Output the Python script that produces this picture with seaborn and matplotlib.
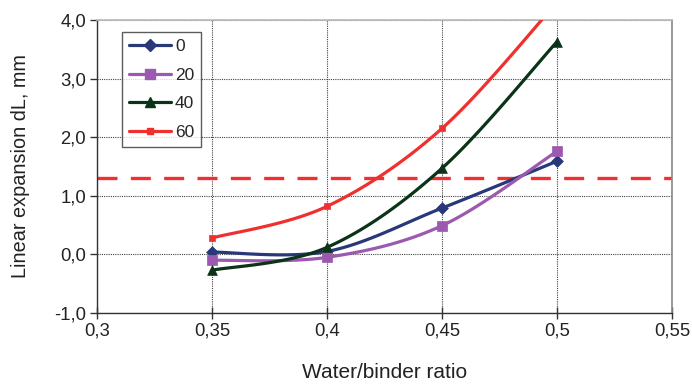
import numpy as np
import pandas as pd
import matplotlib
matplotlib.use("Agg")
import matplotlib.pyplot as plt
import seaborn as sns
from matplotlib.ticker import FuncFormatter, MultipleLocator

# ---- data ----
wb_ratio = [0.35, 0.40, 0.45, 0.50]
series_names = ["0", "20", "40", "60"]
vals_0 = [0.04, 0.05, 0.79, 1.59]
vals_20 = [-0.10, -0.05, 0.49, 1.76]
vals_40 = [-0.27, 0.12, 1.47, 3.63]
vals_60 = [0.28, 0.82, 2.15, 4.30]
limit_value = 1.3

colors = ["#283878", "#9B59B0", "#0B3318", "#F0302F"]
markers = ["D", "s", "^", "s"]
msizes = [6, 7, 7, 4.5]

sns.set_theme(style="white")
plt.rcParams["font.family"] = ["Liberation Sans", "DejaVu Sans"]

def smooth(x, y, n=40):
    # Catmull-Rom smoothing (like spreadsheet "smoothed line")
    x = np.asarray(x, float); y = np.asarray(y, float)
    px = np.concatenate([[x[0]], x, [x[-1]]])
    py = np.concatenate([[y[0]], y, [y[-1]]])
    xs, ys = [], []
    for i in range(1, len(px) - 2):
        t = np.linspace(0, 1, n)
        h00 = 2*t**3 - 3*t**2 + 1
        h10 = t**3 - 2*t**2 + t
        h01 = -2*t**3 + 3*t**2
        h11 = t**3 - t**2
        mx1 = (px[i+1] - px[i-1]) / 2; mx2 = (px[i+2] - px[i]) / 2
        my1 = (py[i+1] - py[i-1]) / 2; my2 = (py[i+2] - py[i]) / 2
        xs.append(h00*px[i] + h10*mx1 + h01*px[i+1] + h11*mx2)
        ys.append(h00*py[i] + h10*my1 + h01*py[i+1] + h11*my2)
    return np.concatenate(xs), np.concatenate(ys)

fig = plt.figure(figsize=(6.92, 3.85), dpi=100)
ax = fig.add_axes([97/692, 1 - 313/385, (672 - 97)/692, (313 - 20)/385])

all_vals = [vals_0, vals_20, vals_40, vals_60]
for name, v, c, m, ms in zip(series_names, all_vals, colors, markers, msizes):
    sx, sy = smooth(wb_ratio, v)
    curve = pd.DataFrame({"x": sx, "y": sy})
    sns.lineplot(data=curve, x="x", y="y", ax=ax, color=c, lw=2.3,
                 sort=False, estimator=None, zorder=3)
    pts = pd.DataFrame({"x": wb_ratio, "y": v})
    sns.scatterplot(data=pts, x="x", y="y", ax=ax, color=c, marker=m,
                    s=ms**2, edgecolor=c, linewidth=0.5, zorder=4)
    ax.plot([], [], color=c, marker=m, ms=ms, lw=2.3, label=name)

ax.axhline(limit_value, color="#EE3030", lw=2.4, ls=(0, (6, 4)), zorder=2)

ax.set_xlim(0.3, 0.55)
ax.set_ylim(-1.0, 4.0)
ax.xaxis.set_major_locator(MultipleLocator(0.05))
ax.yaxis.set_major_locator(MultipleLocator(1.0))

def fx(v, pos):
    s = f"{v:.2f}".rstrip("0")
    if s.endswith("."):
        s += "0"
    return s.replace(".", ",")

ax.xaxis.set_major_formatter(FuncFormatter(fx))
ax.yaxis.set_major_formatter(FuncFormatter(lambda v, p: f"{v:.1f}".replace(".", ",")))

ax.grid(True, color="#444444", ls=(0, (1, 1)), lw=0.8)
ax.set_axisbelow(True)
for side in ["left", "bottom"]:
    ax.spines[side].set_color("#333333")
    ax.spines[side].set_linewidth(1.0)
ax.spines["top"].set_color("#BBBBBB")
ax.spines["right"].set_color("#888888")
ax.spines["right"].set_linewidth(1.2)
ax.tick_params(axis="x", direction="inout", length=8, width=1, color="#333333",
               labelsize=13.3, labelcolor="#222222", bottom=True, pad=3)
ax.tick_params(axis="y", direction="out", length=5, width=1, color="#333333",
               labelsize=13.3, labelcolor="#222222", left=True, pad=3)

ax.set_xlabel("Water/binder ratio", fontsize=15, color="#222222", labelpad=17)
ax.set_ylabel("Linear expansion dL, mm", fontsize=14.3, color="#222222", labelpad=17)

leg = ax.legend(loc="upper left", bbox_to_anchor=((122 - 97)/575, 1 - (32 - 20)/293),
                frameon=True, fancybox=False, fontsize=12.5, handlelength=2.4,
                handletextpad=0.25, labelspacing=0.78, borderpad=0.4,
                edgecolor="#333333", borderaxespad=0)
leg.get_frame().set_linewidth(1.0)

fig.savefig("out.png", dpi=100, facecolor="white")
